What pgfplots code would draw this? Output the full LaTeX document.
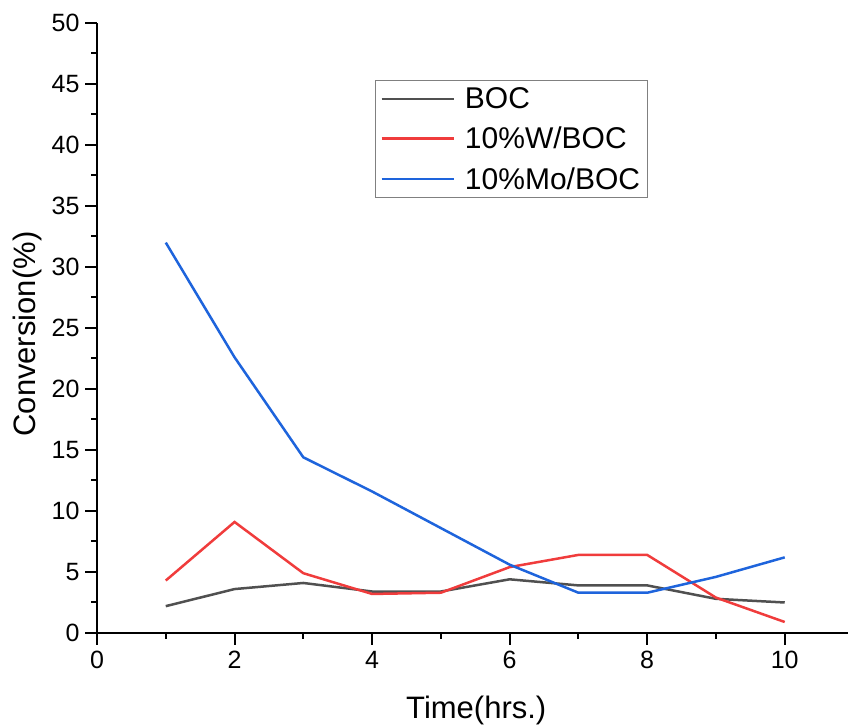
\documentclass[border=0pt]{standalone}
\usepackage{pgfplots}
\pgfplotsset{compat=1.18}
\usepackage{fontspec}
\setmainfont{Liberation Sans}
\definecolor{cboc}{RGB}{80,80,80}
\definecolor{cw}{RGB}{240,60,60}
\definecolor{cmo}{RGB}{30,100,220}
\newcommand{\tkfont}{\fontsize{25bp}{30bp}\selectfont}
\begin{document}
\begin{tikzpicture}
\begin{axis}[
 scale only axis, width=751bp, height=610bp,
 xmin=0, xmax=10.92, ymin=0, ymax=50,
 axis x line=bottom, axis y line=left,
 axis line style={-, line width=2bp, black},
 xtick={0,2,...,10}, minor xtick={1,3,...,9},
 ytick={0,5,...,50}, minor ytick={2.5,7.5,...,47.5},
 tick align=outside, major tick length=12bp, minor tick length=6bp,
 every tick/.style={black, line width=2bp},
 xticklabel={\tkfont\pgfmathprintnumber[assume math mode=true]{\tick}},
 yticklabel={\tkfont\pgfmathprintnumber[assume math mode=true]{\tick}},
 xticklabel style={yshift=-3bp},
 yticklabel style={xshift=-2bp},
 label style={font=\fontsize{31bp}{37bp}\selectfont},
 xlabel={Time(hrs.)}, ylabel={Conversion(\%)},
 xlabel style={at={(axis description cs:0.505,0)}, anchor=center, yshift=-77bp},
 ylabel style={at={(axis description cs:0,0.49)}, anchor=center, yshift=70bp},
 legend style={at={(axis cs:4.04,45.3)}, anchor=north west, draw=gray, line width=1bp,
   font=\fontsize{30bp}{36bp}\selectfont, inner xsep=5bp, inner ysep=5bp, row sep=13bp},
 legend cell align=left,
 legend image code/.code={\draw[#1, line width=2.8bp] (0bp,0bp) -- (72bp,0bp); \path (80bp,0bp);},
 every axis plot/.append style={line width=2.5bp},
]
\addplot[cboc] coordinates {(1,2.2) (2,3.6) (3,4.1) (4,3.4) (5,3.4) (6,4.4) (7,3.9) (8,3.9) (9,2.8) (10,2.5)};
\addlegendentry{BOC}
\addplot[cw] coordinates {(1,4.3) (2,9.1) (3,4.9) (4,3.2) (5,3.3) (6,5.4) (7,6.4) (8,6.4) (9,2.9) (10,0.9)};
\addlegendentry{10\%W/BOC}
\addplot[cmo] coordinates {(1,32) (2,22.6) (3,14.4) (4,11.6) (5,8.6) (6,5.6) (7,3.3) (8,3.3) (9,4.6) (10,6.2)};
\addlegendentry{10\%Mo/BOC}
\end{axis}
\pgfresetboundingbox
\path[use as bounding box] ([xshift=-97bp,yshift=-93bp]current axis.south west) rectangle ([yshift=23bp]current axis.north east);
\end{tikzpicture}
\end{document}
